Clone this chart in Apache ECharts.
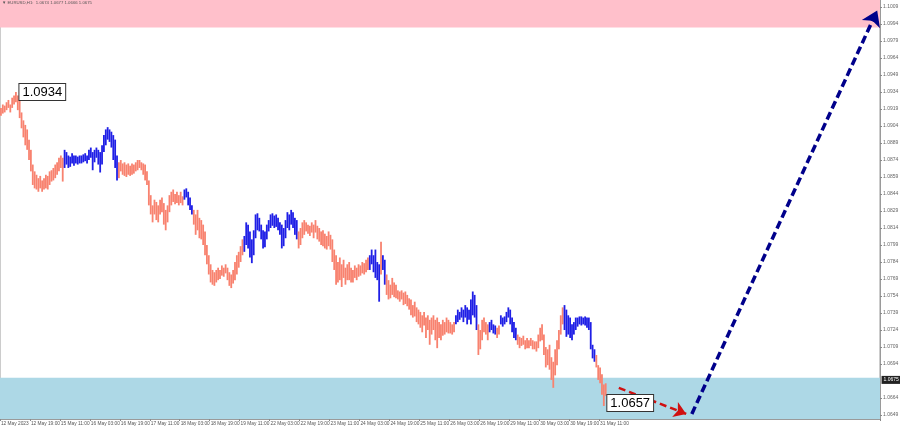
<!DOCTYPE html>
<html><head><meta charset="utf-8">
<script src="https://cdn.jsdelivr.net/npm/echarts@6/dist/echarts.min.js"></script>
<style>html,body{margin:0;padding:0;background:#fff}#c{width:900px;height:429px}</style>
</head><body><div id="c"></div>
<script>
const headerText = '\u25BC EURUSD,H1:  1.0674 1.0677 1.0666 1.0675';
const xTickLabels = ['12 May 2023','12 May 19:00','15 May 11:00','16 May 03:00','16 May 19:00','17 May 11:00','18 May 03:00','18 May 19:00','19 May 11:00','22 May 03:00','22 May 19:00','23 May 11:00','24 May 03:00','24 May 19:00','25 May 11:00','26 May 03:00','26 May 19:00','29 May 11:00','30 May 03:00','30 May 19:00','31 May 11:00'];
const barsPerTick = 16;
const totalSlots = 470;
const yTicks = [1.0649,1.0664,1.0694,1.0709,1.0724,1.0739,1.0754,1.0769,1.0784,1.0799,1.0814,1.0829,1.0844,1.0859,1.0874,1.0889,1.0904,1.0919,1.0934,1.0949,1.0964,1.0979,1.0994,1.1009];
const yMin = 1.06455, yMax = 1.10152;

const barHigh = [
1.0920,1.0923,1.0922,1.0925,1.0927,1.0923,1.0929,1.0931,1.0934,1.0931,
1.0927,1.0916,1.0909,1.0905,1.0901,1.0892,1.0883,1.0870,1.0864,1.0861,
1.0858,1.0860,1.0856,1.0858,1.0861,1.0860,1.0864,1.0865,1.0867,1.0870,
1.0872,1.0876,1.0878,1.0876,1.0883,1.0881,1.0878,1.0877,1.0880,1.0878,
1.0878,1.0877,1.0878,1.0878,1.0879,1.0880,1.0878,1.0883,1.0885,1.0881,
1.0883,1.0885,1.0883,1.0881,1.0887,1.0896,1.0901,1.0903,1.0901,1.0899,
1.0896,1.0892,1.0878,1.0872,1.0874,1.0871,1.0872,1.0870,1.0871,1.0869,
1.0871,1.0870,1.0872,1.0874,1.0874,1.0872,1.0871,1.0870,1.0864,1.0856,
1.0843,1.0834,1.0839,1.0837,1.0834,1.0839,1.0841,1.0836,1.0830,1.0834,
1.0843,1.0846,1.0848,1.0844,1.0846,1.0843,1.0846,1.0842,1.0848,1.0849,
1.0846,1.0841,1.0834,1.0830,1.0826,1.0830,1.0823,1.0821,1.0817,1.0811,
1.0799,1.0790,1.0782,1.0777,1.0775,1.0777,1.0779,1.0777,1.0781,1.0779,
1.0782,1.0779,1.0775,1.0773,1.0777,1.0784,1.0790,1.0793,1.0798,1.0804,
1.0807,1.0819,1.0817,1.0811,1.0804,1.0812,1.0826,1.0827,1.0823,1.0817,
1.0812,1.0811,1.0817,1.0821,1.0826,1.0827,1.0825,1.0826,1.0823,1.0819,
1.0817,1.0814,1.0821,1.0828,1.0826,1.0830,1.0828,1.0823,1.0821,1.0811,
1.0814,1.0819,1.0821,1.0819,1.0817,1.0816,1.0819,1.0817,1.0821,1.0816,
1.0814,1.0811,1.0812,1.0809,1.0807,1.0811,1.0808,1.0804,1.0795,1.0790,
1.0784,1.0788,1.0782,1.0786,1.0779,1.0782,1.0784,1.0779,1.0777,1.0781,
1.0779,1.0782,1.0781,1.0784,1.0783,1.0786,1.0788,1.0790,1.0795,1.0790,
1.0795,1.0784,1.0782,1.0802,1.0790,1.0786,1.0773,1.0768,1.0764,1.0770,
1.0766,1.0764,1.0759,1.0758,1.0759,1.0757,1.0758,1.0755,1.0752,1.0751,
1.0746,1.0749,1.0744,1.0742,1.0740,1.0737,1.0740,1.0735,1.0737,1.0733,
1.0735,1.0737,1.0733,1.0735,1.0731,1.0729,1.0733,1.0731,1.0735,1.0733,
1.0731,1.0729,1.0731,1.0737,1.0742,1.0740,1.0744,1.0742,1.0746,1.0744,
1.0742,1.0751,1.0758,1.0755,1.0746,1.0729,1.0724,1.0733,1.0735,1.0731,
1.0729,1.0731,1.0733,1.0729,1.0728,1.0726,1.0728,1.0737,1.0735,1.0736,
1.0740,1.0744,1.0742,1.0735,1.0731,1.0726,1.0720,1.0718,1.0717,1.0719,
1.0715,1.0717,1.0715,1.0717,1.0715,1.0714,1.0714,1.0720,1.0726,1.0729,
1.0720,1.0709,1.0707,1.0711,1.0700,1.0696,1.0707,1.0715,1.0724,1.0737,
1.0744,1.0746,1.0742,1.0737,1.0735,1.0729,1.0731,1.0735,1.0735,1.0736,
1.0736,1.0735,1.0736,1.0735,1.0735,1.0731,1.0711,1.0707,1.0702,1.0693,
1.0691,1.0685,1.0676,1.0677];

const barLow = [
1.0913,1.0915,1.0916,1.0918,1.0920,1.0916,1.0920,1.0923,1.0925,1.0918,
1.0911,1.0902,1.0894,1.0887,1.0883,1.0874,1.0864,1.0852,1.0849,1.0848,
1.0846,1.0849,1.0846,1.0848,1.0849,1.0848,1.0852,1.0855,1.0856,1.0858,
1.0861,1.0864,1.0867,1.0855,1.0867,1.0870,1.0867,1.0868,1.0871,1.0869,
1.0871,1.0870,1.0871,1.0871,1.0872,1.0873,1.0871,1.0874,1.0876,1.0865,
1.0872,1.0876,1.0870,1.0863,1.0870,1.0881,1.0887,1.0892,1.0890,1.0885,
1.0874,1.0867,1.0856,1.0858,1.0864,1.0861,1.0860,1.0859,1.0861,1.0860,
1.0861,1.0862,1.0864,1.0865,1.0867,1.0865,1.0861,1.0856,1.0852,1.0834,
1.0826,1.0819,1.0826,1.0821,1.0819,1.0826,1.0828,1.0817,1.0812,1.0819,
1.0828,1.0834,1.0837,1.0835,1.0836,1.0834,1.0836,1.0834,1.0839,1.0841,
1.0834,1.0830,1.0826,1.0817,1.0808,1.0812,1.0805,1.0804,1.0799,1.0790,
1.0782,1.0773,1.0766,1.0764,1.0763,1.0766,1.0768,1.0769,1.0772,1.0771,
1.0774,1.0768,1.0763,1.0761,1.0765,1.0768,1.0773,1.0779,1.0784,1.0790,
1.0793,1.0799,1.0796,1.0788,1.0783,1.0790,1.0805,1.0812,1.0811,1.0804,
1.0796,1.0797,1.0804,1.0811,1.0814,1.0816,1.0814,1.0815,1.0812,1.0808,
1.0796,1.0798,1.0805,1.0814,1.0812,1.0817,1.0814,1.0808,1.0804,1.0796,
1.0799,1.0805,1.0808,1.0811,1.0809,1.0807,1.0810,1.0805,1.0810,1.0804,
1.0802,1.0799,1.0798,1.0796,1.0795,1.0798,1.0795,1.0784,1.0777,1.0764,
1.0766,1.0768,1.0762,1.0770,1.0764,1.0768,1.0768,1.0766,1.0766,1.0770,
1.0768,1.0771,1.0772,1.0774,1.0773,1.0775,1.0777,1.0777,1.0782,1.0775,
1.0770,1.0768,1.0749,1.0773,1.0777,1.0764,1.0755,1.0751,1.0752,1.0755,
1.0753,1.0752,1.0751,1.0749,1.0751,1.0746,1.0747,1.0745,1.0742,1.0737,
1.0735,1.0736,1.0731,1.0729,1.0726,1.0722,1.0728,1.0717,1.0724,1.0711,
1.0720,1.0724,1.0715,1.0708,1.0717,1.0715,1.0719,1.0720,1.0722,1.0721,
1.0721,1.0720,1.0722,1.0729,1.0731,1.0733,1.0735,1.0731,1.0735,1.0729,
1.0733,1.0729,1.0737,1.0735,1.0724,1.0702,1.0707,1.0715,1.0722,1.0720,
1.0715,1.0722,1.0724,1.0721,1.0720,1.0717,1.0720,1.0729,1.0727,1.0729,
1.0731,1.0735,1.0729,1.0722,1.0717,1.0715,1.0711,1.0708,1.0710,1.0711,
1.0707,1.0708,1.0708,1.0710,1.0707,1.0707,1.0705,1.0708,1.0714,1.0715,
1.0702,1.0691,1.0693,1.0689,1.0680,1.0673,1.0684,1.0693,1.0707,1.0720,
1.0729,1.0724,1.0718,1.0720,1.0717,1.0715,1.0720,1.0724,1.0727,1.0729,
1.0728,1.0729,1.0728,1.0726,1.0724,1.0707,1.0699,1.0696,1.0691,1.0680,
1.0677,1.0667,1.0657,1.0666];

// wave segments drawn in blue (bar index ranges)
const blueWaves = [[34,62],[98,102],[130,158],[197,202],[204,205],[243,254],[261,264],[267,275],[301,317]];

const sellZone = [1.0991, 1.10152];
const buyZone = [1.06455, 1.0682];
const peakMark = {bar: 8, price: 1.0934, text: '1.0934'};
const lowMark = {bar: 322, price: 1.0657, text: '1.0657'};
const lastPrice = {price: 1.0680, text: '1.0675'};
const redArrow = [[330, 1.0673], [366, 1.0650]];
const blueArrow = [[369, 1.0650], [468, 1.1006]];

const SALMON = '#f8826f', BLUE = '#1f1fe6';
function isBlue(i){ return blueWaves.some(function(s){ return i >= s[0] && i <= s[1]; }); }

const categories = [];
for (let i = 0; i < totalSlots; i++) categories.push(String(i));
const barData = barHigh.map(function(h, i){ return [i, barLow[i], h]; });
function tickShown(i){ return i % barsPerTick === 0 && (i / barsPerTick) < xTickLabels.length; }

const boxLabel = {show: true, position: 'right', distance: 3, fontSize: 13, color: '#000', fontFamily: 'Liberation Sans',
  backgroundColor: '#fff', borderColor: '#333', borderWidth: 1, padding: [2, 3, 1, 3]};

const chart = echarts.init(document.getElementById('c'), null, {renderer: 'canvas'});
chart.setOption({
  animation: false,
  backgroundColor: '#ffffff',
  title: {text: headerText, left: 2, top: 1, padding: 0,
    textStyle: {fontSize: 4.3, color: '#555', fontWeight: 'normal', fontFamily: 'Liberation Sans'}},
  grid: {left: 0, right: 20, top: 0, bottom: 10, containLabel: false, outerBoundsMode: 'none',
    show: true, borderColor: '#9a9a9a', borderWidth: 1, backgroundColor: 'transparent'},
  xAxis: {type: 'category', data: categories, boundaryGap: true,
    axisLine: {show: true, lineStyle: {color: '#9a9a9a', width: 1}},
    axisTick: {show: true, length: 2, interval: function(i){ return tickShown(i); }, lineStyle: {color: '#888'}},
    axisLabel: {show: true, interval: function(i){ return tickShown(i); }, margin: 2, align: 'left',
      fontSize: 4.8, color: '#555', fontFamily: 'Liberation Sans',
      formatter: function(v, i){ return xTickLabels[i / barsPerTick] || ''; }},
    splitLine: {show: false}},
  yAxis: {type: 'value', position: 'right', min: yMin, max: yMax, scale: true,
    axisLine: {show: true, lineStyle: {color: '#9a9a9a', width: 1}},
    axisTick: {show: true, length: 2, customValues: yTicks, lineStyle: {color: '#888'}},
    axisLabel: {show: true, customValues: yTicks, margin: 3, fontSize: 5, color: '#666', fontFamily: 'Liberation Sans',
      formatter: function(v){ return v.toFixed(4); }},
    splitLine: {show: false}},
  series: [
    {type: 'line', data: [], silent: true, z: 0,
      markArea: {silent: true, z: 1, data: [
        [{yAxis: sellZone[0], itemStyle: {color: '#ffc0cb'}}, {yAxis: sellZone[1]}],
        [{yAxis: buyZone[0], itemStyle: {color: '#add8e6'}}, {yAxis: buyZone[1]}]
      ]}},
    {type: 'custom', z: 5, clip: true, data: barData, encode: {x: 0, y: [1, 2]},
      renderItem: function(params, api){
        const i = api.value(0);
        const top = api.coord([i, api.value(2)]);
        const bot = api.coord([i, api.value(1)]);
        return {type: 'rect', shape: {x: top[0] - 0.9, y: top[1], width: 1.8, height: Math.max(1, bot[1] - top[1])},
          style: {fill: isBlue(i) ? BLUE : SALMON}};
      }},
    {type: 'line', data: [], silent: true, z: 6,
      markLine: {silent: true, symbol: ['none', 'arrow'], symbolSize: 12, z: 6,
        lineStyle: {color: '#d01010', width: 2.5, type: [7, 4]}, label: {show: false},
        data: [[{coord: redArrow[0]}, {coord: redArrow[1]}]]}},
    {type: 'line', data: [], silent: true, z: 6,
      markLine: {silent: true, symbol: ['none', 'arrow'], symbolSize: 15, z: 6,
        lineStyle: {color: '#00008b', width: 3.5, type: [8, 4]}, label: {show: false},
        data: [[{coord: blueArrow[0]}, {coord: blueArrow[1]}]]}},
    {type: 'line', data: [], silent: true, z: 10,
      markPoint: {silent: true, z: 10, symbol: 'circle', symbolSize: 1, itemStyle: {color: 'transparent'},
        label: boxLabel,
        data: [
          {coord: [peakMark.bar, peakMark.price], label: {formatter: peakMark.text}},
          {coord: [lowMark.bar, lowMark.price], label: {formatter: lowMark.text, offset: [0, -3]}},
          {coord: [totalSlots - 1, lastPrice.price],
            label: {formatter: lastPrice.text, distance: 2, fontSize: 5, color: '#fff', backgroundColor: '#222',
              borderWidth: 0, padding: [2, 2, 1, 2]}}
        ]}}
  ]
});
</script></body></html>
